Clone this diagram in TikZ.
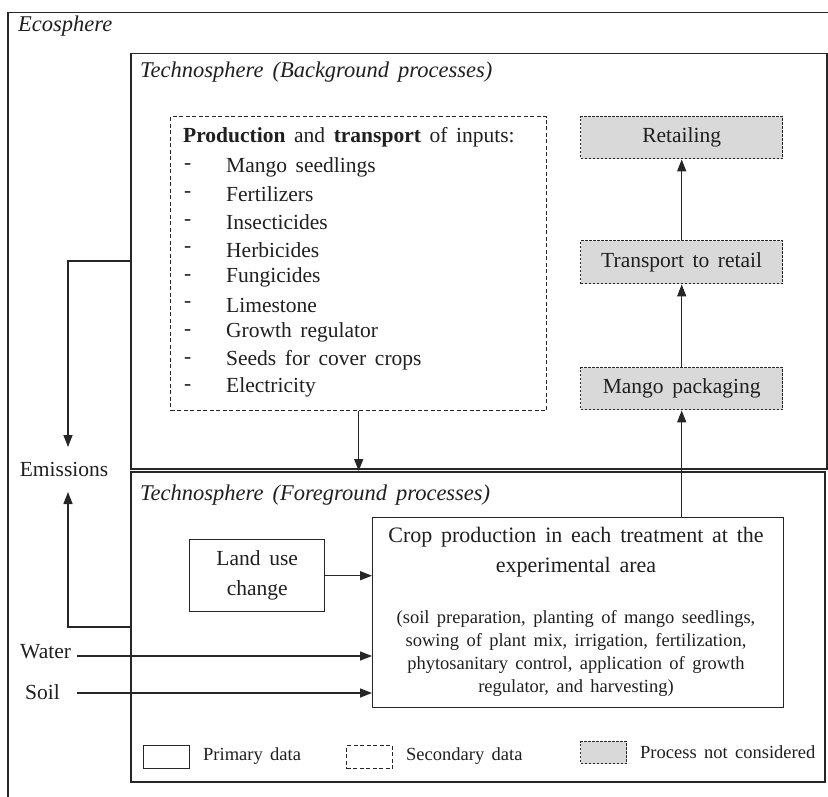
\documentclass[tikz,border=0pt]{standalone}
\usepackage{fontspec}
\setmainfont{Liberation Serif}[WordSpace=1.6]
\usetikzlibrary{arrows.meta}
\definecolor{ln}{HTML}{262626}
\definecolor{gf}{HTML}{D9D9D9}
\begin{document}
\begin{tikzpicture}[x=1pt,y=-1pt,
  frame/.style={draw=ln, line width=1.5pt, inner sep=0pt, anchor=north west},
  solidbox/.style={draw=ln, line width=1.4pt, inner sep=0pt, anchor=north west},
  secbox/.style={draw=ln, line width=1.4pt, dash pattern=on 4pt off 2.5pt, inner sep=0pt, anchor=north west},
  grybox/.style={draw=ln, line width=1.4pt, dash pattern=on 2.5pt off 1.5pt, fill=gf, inner sep=0pt, anchor=north west},
  arr/.style={draw=ln, line width=1.4pt, -{Triangle[length=12pt,width=9pt]}},
  txt/.style={inner sep=0pt, text=black!88, font=\fontsize{21.5}{26}\selectfont},
  ttl/.style={inner sep=0pt, anchor=west, text=black!88, font=\fontsize{22.5}{27}\selectfont\itshape},
  sml/.style={inner sep=0pt, text=black!88, font=\fontsize{18.5}{22}\selectfont},
  leg/.style={inner sep=0pt, anchor=west, text=black!88, font=\fontsize{18.5}{22}\selectfont},
]
\useasboundingbox (0,0) rectangle (828,797);
% frames
\node[frame, minimum width=840pt, minimum height=800pt] (eco) at (7,12) {};
\node[ttl] (ecot) at (18,26) {Ecosphere};
\node[frame, minimum width=696pt, minimum height=415pt] (bg) at (130,53) {};
\node[ttl] (bgt) at (140,72) {Technosphere (Background processes)};
\node[frame, minimum width=694pt, minimum height=310pt] (fg) at (130,471) {};
\node[ttl] (fgt) at (140,495) {Technosphere (Foreground processes)};
% inputs
\node[secbox, minimum width=376pt, minimum height=294pt] (inp) at (170,116) {};
\node[txt, anchor=west] (inpt) at (183,137) {\textbf{Production} and \textbf{transport} of inputs:};
\foreach \i/\t in {0/Mango seedlings,1/Fertilizers,2/Insecticides,3/Herbicides,4/Fungicides,5/Limestone,6/Growth regulator,7/Seeds for cover crops,8/Electricity}{
  \node[txt, anchor=west] (d\i) at (184,167+27.6*\i) {-};
  \node[txt, anchor=west] (it\i) at (226,167+27.6*\i) {\t};
}
% not considered chain
\node[grybox, minimum width=202pt, minimum height=42pt] (ret) at (580,116) {};
\node[txt] (rett) at (ret.center) {Retailing};
\node[grybox, minimum width=202pt, minimum height=43pt] (tra) at (580,240) {};
\node[txt] (trat) at (tra.center) {Transport to retail};
\node[grybox, minimum width=202pt, minimum height=42pt] (pac) at (580,367) {};
\node[txt] (pact) at (pac.center) {Mango packaging};
% foreground
\node[solidbox, minimum width=411pt, minimum height=190pt] (crop) at (372,517) {};
\node[txt, font=\fontsize{22}{26}\selectfont] (c1) at (576,537) {Crop production in each treatment at the};
\node[txt, font=\fontsize{22}{26}\selectfont] (c2) at (576,567) {experimental area};
\node[sml] (c3) at (576,619) {(soil preparation, planting of mango seedlings,};
\node[sml] (c4) at (576,642) {sowing of plant mix, irrigation, fertilization,};
\node[sml] (c5) at (576,665) {phytosanitary control, application of growth};
\node[sml] (c6) at (576,688) {regulator, and harvesting)};
\node[solidbox, minimum width=135pt, minimum height=72pt] (luc) at (189,539) {};
\node[txt, align=center, font=\fontsize{21.5}{30}\selectfont] (luct) at (luc.center) {Land use\\change};
% outside labels
\node[txt] (emis) at (64,469) {Emissions};
\node[txt, anchor=west] (water) at (20,652) {Water};
\node[txt, anchor=west] (soil) at (25,692) {Soil};
% legend
\node[solidbox, minimum width=46pt, minimum height=23pt] (l1) at (143,745) {};
\node[leg] (l1t) at (203,756) {Primary data};
\node[secbox, minimum width=46pt, minimum height=23pt] (l2) at (346,745) {};
\node[leg] (l2t) at (406,756) {Secondary data};
\node[grybox, minimum width=46pt, minimum height=22pt] (l3) at (580,741) {};
\node[leg] (l3t) at (640,752) {Process not considered};
% connectors
\draw[arr] (inp.south) -- (inp.south |- fg.north);
\draw[arr] (crop.north -| pac.south) -- (pac.south);
\draw[arr] (pac.north) -- (tra.south);
\draw[arr] (tra.north) -- (ret.south);
\draw[arr] (luc.east) -- (luc.east -| crop.west);
\coordinate (e1) at (130,261);
\coordinate (e2) at (130,627);
\coordinate (et) at (68,447);
\coordinate (eb) at (68,492);
\coordinate (ws) at (77,656);
\coordinate (ss) at (77,693);
\draw[arr] (e1) -| (et);
\draw[arr] (e2) -| (eb);
\draw[arr] (ws) -- (ws -| crop.west);
\draw[arr] (ss) -- (ss -| crop.west);
\end{tikzpicture}
\end{document}
